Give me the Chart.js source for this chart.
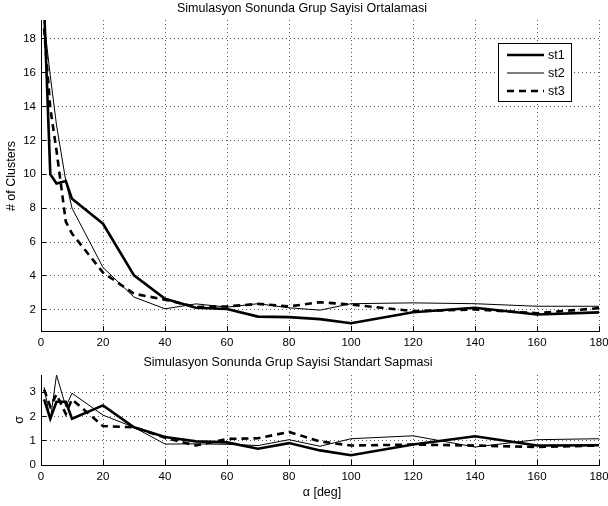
<!DOCTYPE html>
<html>
<head>
<meta charset="utf-8">
<script src="https://cdn.jsdelivr.net/npm/chart.js@4"></script>
<style>
  body { margin: 0; background: #fff; width: 608px; height: 506px; overflow: hidden; position: relative;
         font-family: "Liberation Sans", Arial, sans-serif; }
  canvas { position: absolute; left: 0; }
  .txt { position: absolute; font-size: 12.5px; line-height: 14px; color: #000; white-space: nowrap; }
</style>
</head>
<body>
<canvas id="meanChart" width="608" height="360" style="top:0"></canvas>
<canvas id="stdChart" width="608" height="146" style="top:360px"></canvas>

<div class="txt" style="left:302px; top:1px; transform:translateX(-50%)">Simulasyon Sonunda Grup Sayisi Ortalamasi</div>
<div class="txt" style="left:11px; top:176px; transform:translate(-50%,-50%) rotate(-90deg)"># of Clusters</div>
<div class="txt" style="left:288px; top:355px; transform:translateX(-50%)">Simulasyon Sonunda Grup Sayisi Standart Sapmasi</div>
<div class="txt" style="left:19px; top:420px; transform:translate(-50%,-50%) rotate(-90deg)">σ</div>
<div class="txt" style="left:322px; top:485px; transform:translateX(-50%)">α [deg]</div>

<script>
// alpha values (x axis) shared by both plots
const alpha = [1, 3, 5, 8, 10, 20, 30, 40, 50, 60, 70, 80, 90, 100, 120, 140, 160, 180];
const seriesNames = ['st1', 'st2', 'st3'];

// mean number of clusters at end of simulation
const meanSt1 = [19.9, 10.0, 9.45, 9.6, 8.55, 7.08, 4.03, 2.65, 2.12, 2.05, 1.6, 1.57, 1.45, 1.21, 1.86, 2.12, 1.72, 1.85];
const meanSt2 = [19.0, 15.8, 12.9, 9.6, 8.0, 4.5, 2.75, 2.06, 2.35, 2.16, 2.36, 2.12, 1.98, 2.36, 2.41, 2.36, 2.21, 2.21];
const meanSt3 = [18.6, 13.9, 11.4, 7.2, 6.5, 4.2, 2.95, 2.6, 2.16, 2.2, 2.35, 2.2, 2.45, 2.31, 1.92, 2.02, 1.8, 2.1];

// standard deviation
const stdSt1 = [2.7, 1.9, 2.6, 2.6, 1.9, 2.45, 1.55, 1.15, 0.97, 0.93, 0.67, 0.9, 0.6, 0.4, 0.84, 1.18, 0.8, 0.81];
const stdSt2 = [3.2, 1.85, 3.7, 2.4, 2.95, 2.05, 1.55, 0.86, 0.87, 0.85, 0.8, 1.04, 0.77, 1.08, 1.2, 0.74, 1.04, 1.08];
const stdSt3 = [3.1, 2.4, 2.9, 2.1, 2.7, 1.6, 1.55, 1.12, 0.8, 1.07, 1.1, 1.36, 0.97, 0.8, 0.84, 0.8, 0.74, 0.8];

const alphaTicks = [0, 20, 40, 60, 80, 100, 120, 140, 160, 180];
const meanTicks = [2, 4, 6, 8, 10, 12, 14, 16, 18];
const stdTicks = [0, 1, 2, 3];

Chart.defaults.font.family = '"Liberation Sans", Arial, sans-serif';
Chart.defaults.font.size = 11.5;
Chart.defaults.color = '#000';

const lineStyles = [
    { borderWidth: 2.6, borderDash: [], order: 3 },
    { borderWidth: 1, borderDash: [], order: 2 },
    { borderWidth: 2.6, borderDash: [7, 5], order: 1 },
];

function makeDatasets(series) {
    return series.map((ys, i) => ({
        label: seriesNames[i],
        data: alpha.map((a, j) => ({ x: a, y: ys[j] })),
        borderColor: '#000',
        borderWidth: lineStyles[i].borderWidth,
        borderDash: lineStyles[i].borderDash,
        order: lineStyles[i].order,
        pointRadius: 0,
        tension: 0,
        fill: false,
        clip: { left: 4, right: 4, top: 0, bottom: 4 },
    }));
}

// matlab-ish axes: dotted grid, inward ticks, only left + bottom axis lines
function gridOpts() {
    return { color: 'rgba(0,0,0,0.65)', drawTicks: true, tickLength: -5, tickColor: '#000', tickWidth: 1 };
}
function borderOpts() {
    return { display: true, color: '#000', width: 1, dash: [1, 3] };
}

function makeScales(yMin, yMax, yTicks, xHeight) {
    return {
        x: {
            type: 'linear', min: 0, max: 180,
            grid: gridOpts(), border: borderOpts(),
            ticks: { padding: 10, maxRotation: 0, autoSkip: false },
            afterBuildTicks: (s) => { s.ticks = alphaTicks.map(v => ({ value: v })); },
            afterFit: (s) => { s.height = xHeight; s.paddingLeft = 0; s.paddingRight = 0; },
        },
        y: {
            type: 'linear', min: yMin, max: yMax,
            grid: gridOpts(), border: borderOpts(),
            ticks: { padding: 10, autoSkip: false },
            afterBuildTicks: (s) => { s.ticks = yTicks.map(v => ({ value: v })); },
            afterFit: (s) => { s.width = 41; s.paddingTop = 0; s.paddingBottom = 0; },
        },
    };
}

const boxLegend = {
    id: 'boxLegend',
    afterDatasetsDraw(chart, args, o) {
        const ctx = chart.ctx;
        ctx.save();
        ctx.fillStyle = '#fff';
        ctx.fillRect(o.x, o.y, o.w, o.h);
        ctx.strokeStyle = '#000';
        ctx.lineWidth = 1;
        ctx.setLineDash([]);
        ctx.strokeRect(o.x + 0.5, o.y + 0.5, o.w, o.h);
        chart.data.datasets.forEach((ds, i) => {
            const yy = o.y + o.first + i * o.step;
            ctx.beginPath();
            ctx.setLineDash(ds.borderDash || []);
            ctx.lineWidth = ds.borderWidth;
            ctx.moveTo(o.x + 9, yy);
            ctx.lineTo(o.x + 46, yy);
            ctx.stroke();
            ctx.setLineDash([]);
            ctx.fillStyle = '#000';
            ctx.font = '12.5px "Liberation Sans", Arial, sans-serif';
            ctx.textBaseline = 'middle';
            ctx.fillText(ds.label, o.x + 50, yy + 0.5);
        });
        ctx.restore();
    },
};

new Chart(document.getElementById('meanChart'), {
    type: 'line',
    data: { datasets: makeDatasets([meanSt1, meanSt2, meanSt3]) },
    options: {
        responsive: false,
        animation: false,
        layout: { padding: { top: 20, right: 9, left: 0, bottom: 0 } },
        scales: makeScales(0.75, 19.1, meanTicks, 29),
        plugins: {
            legend: { display: false },
            tooltip: { enabled: false },
            boxLegend: { x: 498, y: 43, w: 73, h: 58, first: 12, step: 18 },
        },
    },
    plugins: [boxLegend],
});

new Chart(document.getElementById('stdChart'), {
    type: 'line',
    data: { datasets: makeDatasets([stdSt1, stdSt2, stdSt3]) },
    options: {
        responsive: false,
        animation: false,
        layout: { padding: { top: 15, right: 9, left: 0, bottom: 0 } },
        scales: makeScales(0, 3.7, stdTicks, 41),
        plugins: {
            legend: { display: false },
            tooltip: { enabled: false },
        },
    },
});
</script>
</body>
</html>
